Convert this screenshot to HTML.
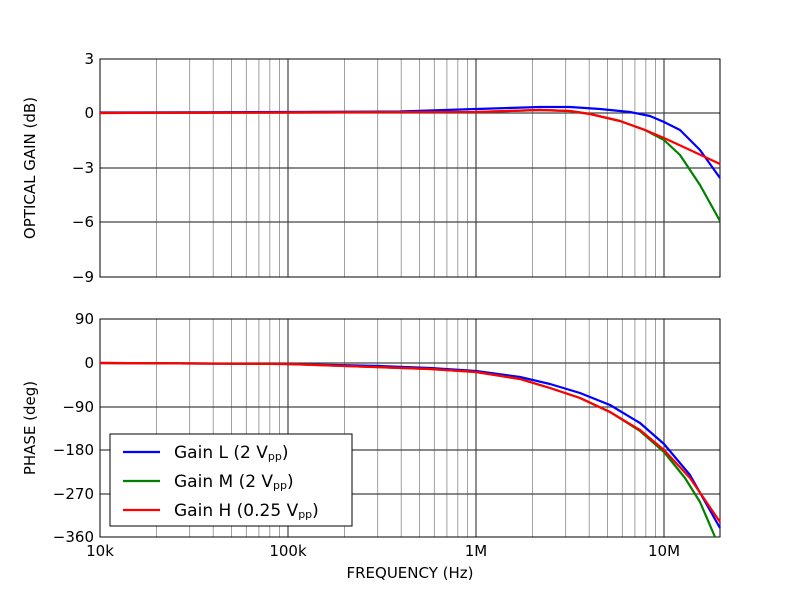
<!DOCTYPE html>
<html><head><meta charset="utf-8"><style>
body{margin:0;background:#fff;}
svg text{font-family:"DejaVu Sans","Liberation Sans",sans-serif;fill:#000;}
</style></head><body>
<svg width="800" height="597" xmlns="http://www.w3.org/2000/svg">
<g stroke="#888" stroke-width="0.8">
<path d="M156.6 59V277M189.7 59V277M213.2 59V277M231.4 59V277M246.3 59V277M258.9 59V277M269.8 59V277M279.4 59V277M344.6 59V277M377.7 59V277M401.2 59V277M419.4 59V277M434.3 59V277M446.9 59V277M457.8 59V277M467.4 59V277M532.6 59V277M565.7 59V277M589.2 59V277M607.4 59V277M622.3 59V277M634.9 59V277M645.8 59V277M655.4 59V277"/>
<path d="M156.6 319V537M189.7 319V537M213.2 319V537M231.4 319V537M246.3 319V537M258.9 319V537M269.8 319V537M279.4 319V537M344.6 319V537M377.7 319V537M401.2 319V537M419.4 319V537M434.3 319V537M446.9 319V537M457.8 319V537M467.4 319V537M532.6 319V537M565.7 319V537M589.2 319V537M607.4 319V537M622.3 319V537M634.9 319V537M645.8 319V537M655.4 319V537"/>
</g>
<g stroke="#444" stroke-width="1.2">
<path d="M288 59V277M476 59V277M664 59V277M100 113H720M100 168H720M100 222H720"/>
<path d="M288 319V537M476 319V537M664 319V537M100 363H720M100 407H720M100 450H720M100 494H720"/>
</g>
<rect x="100" y="59" width="620" height="218" fill="none" stroke="#000" stroke-width="1"/>
<rect x="100" y="319" width="620" height="218" fill="none" stroke="#000" stroke-width="1"/>
<g fill="none" stroke-width="2.2" stroke-linejoin="round">
<polyline stroke="#0000ff" points="100,112.5 288,112 400,111.5 476,109 540,107 570,107 600,109 630,112 650,116 664,122 680,130 700,150 720,178"/>
<polyline stroke="#008000" points="100,113 476,112 540,110 570,111 590,114 620,121 645,130 664,140 680,155 700,185 720,221"/>
<polyline stroke="#ff0000" points="100,113 476,112 540,110 570,111 590,114 620,121 645,130 664,138 690,150 720,164"/>
<polyline stroke="#0000ff" points="100,363 288,364 380,366 430,368 476,371 520,377 550,384 580,393 610,405 640,423 664,444 690,475 720,528"/>
<polyline stroke="#008000" points="100,363 288,364 430,369 476,372 520,379 550,388 580,398 610,412 640,431 664,452 685,478 700,502 715,537"/>
<polyline stroke="#ff0000" points="100,363 288,364 430,369 476,372 520,379 550,388 580,398 610,412 640,430 664,450 690,478 720,522"/>
</g>
<g font-size="15" text-anchor="end">
<text x="94" y="64">3</text><text x="94" y="118">0</text><text x="94" y="173">−3</text><text x="94" y="227">−6</text><text x="94" y="282">−9</text>
<text x="94" y="324">90</text><text x="94" y="368">0</text><text x="94" y="412">−90</text><text x="94" y="455">−180</text><text x="94" y="499">−270</text><text x="94" y="542">−360</text>
</g>
<g font-size="15" text-anchor="middle">
<text x="100" y="556">10k</text><text x="288" y="556">100k</text><text x="476" y="556">1M</text><text x="664" y="556">10M</text>
<text x="410" y="578">FREQUENCY (Hz)</text>
<text transform="translate(35,168) rotate(-90)">OPTICAL GAIN (dB)</text>
<text transform="translate(35,428) rotate(-90)">PHASE (deg)</text>
</g>
<rect x="110" y="434" width="242" height="92" fill="#fff" stroke="#000" stroke-width="1"/>
<g stroke-width="2.2">
<line x1="123" y1="452" x2="160" y2="452" stroke="#0000ff"/>
<line x1="123" y1="481" x2="160" y2="481" stroke="#008000"/>
<line x1="123" y1="510" x2="160" y2="510" stroke="#ff0000"/>
</g>
<g font-size="17">
<text x="174" y="458">Gain L (2 V<tspan font-size="11" dy="2">pp</tspan><tspan dy="-2">)</tspan></text>
<text x="174" y="487">Gain M (2 V<tspan font-size="11" dy="2">pp</tspan><tspan dy="-2">)</tspan></text>
<text x="174" y="516">Gain H (0.25 V<tspan font-size="11" dy="2">pp</tspan><tspan dy="-2">)</tspan></text>
</g>
</svg>
</body></html>
